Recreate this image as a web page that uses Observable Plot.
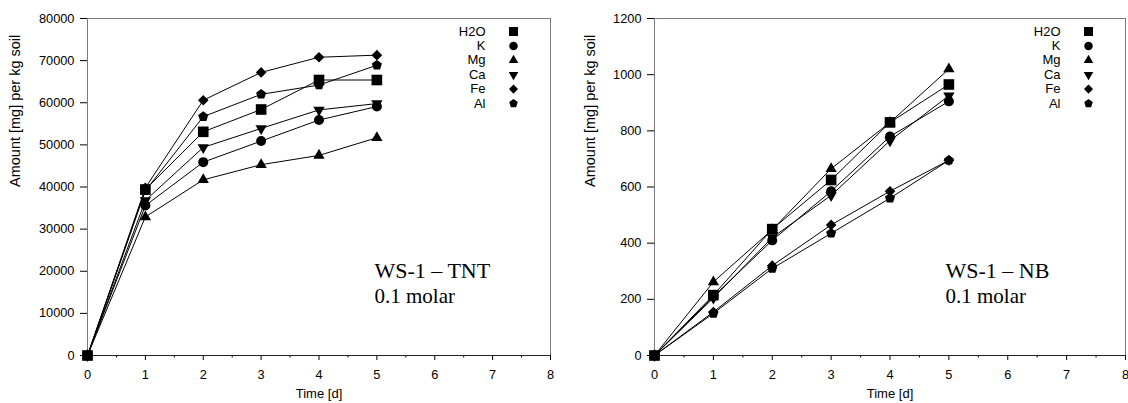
<!DOCTYPE html>
<html><head><meta charset="utf-8">
<script src="https://cdn.jsdelivr.net/npm/d3@7"></script>
<script src="https://cdn.jsdelivr.net/npm/@observablehq/plot@0.6"></script>
<style>
body{margin:0;background:#fff;}
#wrap{display:flex;width:1128px;height:403px;overflow:hidden;}
#wrap svg{overflow:visible;}
</style></head><body><div id="wrap"></div>
<script>
// ---- data ----
const days = [0, 1, 2, 3, 4, 5];
const seriesNames = ["H2O", "K", "Mg", "Ca", "Fe", "Al"];
const xTicks = [0, 1, 2, 3, 4, 5, 6, 7, 8];

// WS-1 – TNT
const tntH2O = [0, 39400, 53100, 58400, 65400, 65400];
const tntK   = [0, 35600, 45900, 50900, 55900, 59100];
const tntMg  = [0, 32900, 41700, 45300, 47500, 51700];
const tntCa  = [0, 36800, 49400, 53900, 58300, 59800];
const tntFe  = [0, 39800, 60600, 67200, 70800, 71300];
const tntAl  = [0, 39100, 56700, 62000, 64200, 68900];
const tntYTicks = [0, 10000, 20000, 30000, 40000, 50000, 60000, 70000, 80000];

// WS-1 – NB
const nbH2O = [0, 215, 450, 625, 830, 965];
const nbK   = [0, 210, 410, 585, 780, 905];
const nbMg  = [0, 262, 448, 665, 830, 1020];
const nbCa  = [0, 205, 420, 570, 765, 925];
const nbFe  = [0, 155, 320, 465, 585, 695];
const nbAl  = [0, 150, 310, 435, 560, 695];
const nbYTicks = [0, 200, 400, 600, 800, 1000, 1200];

const xLabel = "Time [d]";
const yLabel = "Amount [mg] per kg soil";
const subNote = "0.1 molar";

// ---- symbols ----
const downTriangle = {draw(ctx, size) {
  const h = Math.sqrt(size / (3 * Math.sqrt(3))), w = Math.sqrt(3) * h;
  ctx.moveTo(0, 2 * h); ctx.lineTo(-w, -h); ctx.lineTo(w, -h); ctx.closePath();
}};
const pentagon = {draw(ctx, size) {
  const R = Math.sqrt(size / 2.3776);
  for (let k = 0; k < 5; ++k) {
    const a = -Math.PI / 2 + k * 2 * Math.PI / 5;
    const x = R * Math.cos(a), y = R * Math.sin(a);
    k ? ctx.lineTo(x, y) : ctx.moveTo(x, y);
  }
  ctx.closePath();
}};
const symbolOf = {H2O: "square", K: "circle", Mg: "triangle", Ca: downTriangle, Fe: "diamond2", Al: pentagon};
const rOf = {H2O: 6, K: 5, Mg: 4.2, Ca: 4.2, Fe: 4.8, Al: 4.6};
const drawOrder = ["Al", "Fe", "Ca", "Mg", "K", "H2O"];
const serif = "'Liberation Serif', 'DejaVu Serif', serif";

function rows(vals) {
  const out = [];
  seriesNames.forEach((s, i) => days.forEach((d, j) => out.push({series: s, day: d, value: vals[i][j]})));
  return out;
}

function panel({vals, yTicks, title, ml, mr, yLabelDx, noteDx}) {
  const data = rows(vals);
  const marks = [
    Plot.frame({stroke: "#7a7a7a"}),
    Plot.axisX({ticks: xTicks, tickSize: 5, tickPadding: 9, label: null}),
    Plot.axisX({ticks: d3.range(0.5, 8, 1), tickSize: 2.5, tickFormat: () => "", label: null}),
    Plot.axisY({ticks: yTicks, tickSize: 7, tickPadding: 6, tickFormat: d3.format("d"), label: null}),
    Plot.ruleY([0], {stroke: "#222"}),
    Plot.text([xLabel], {text: d => d, frameAnchor: "bottom", dy: 38, lineAnchor: "middle", fontSize: 13}),
    Plot.text([yLabel], {text: d => d, frameAnchor: "left", dx: yLabelDx, rotate: -90, lineAnchor: "middle", fontSize: 14.5}),
    Plot.line(data, {x: "day", y: "value", z: "series", stroke: "black", strokeWidth: 1})
  ];
  for (const s of drawOrder) {
    marks.push(Plot.dot(data.filter(d => d.series === s), {x: "day", y: "value", symbol: () => symbolOf[s], r: rOf[s], fill: "black", stroke: "none"}));
  }
  seriesNames.forEach((s, i) => {
    marks.push(Plot.text([s], {text: d => d, frameAnchor: "top-right", dx: -65, dy: 13 + i * 14.4, textAnchor: "end", lineAnchor: "middle", fontSize: 13}));
    marks.push(Plot.dot([s], {frameAnchor: "top-right", dx: -37, dy: 13 + i * 14.4, symbol: () => symbolOf[s], r: rOf[s] * 0.85, fill: "black", stroke: "none"}));
  });
  marks.push(Plot.text([title], {text: d => d, frameAnchor: "top-left", dx: noteDx, dy: 252, textAnchor: "start", lineAnchor: "middle", fontFamily: serif, fontSize: 22}));
  marks.push(Plot.text([subNote], {text: d => d, frameAnchor: "top-left", dx: noteDx, dy: 278, textAnchor: "start", lineAnchor: "middle", fontFamily: serif, fontSize: 21}));
  return Plot.plot({
    width: 564, height: 403,
    marginLeft: ml, marginRight: mr, marginTop: 18, marginBottom: 48,
    style: {fontFamily: "'Liberation Sans', Arial, sans-serif", fontSize: "12.8px", color: "black", background: "white", overflow: "visible"},
    x: {domain: [0, 8]},
    y: {domain: [0, yTicks[yTicks.length - 1]]},
    symbol: {type: "identity"},
    marks
  });
}

const wrap = document.getElementById("wrap");
wrap.appendChild(panel({vals: [tntH2O, tntK, tntMg, tntCa, tntFe, tntAl], yTicks: tntYTicks, title: "WS-1 – TNT", ml: 87, mr: 14, yLabelDx: -72, noteDx: 287}));
wrap.appendChild(panel({vals: [nbH2O, nbK, nbMg, nbCa, nbFe, nbAl], yTicks: nbYTicks, title: "WS-1 – NB", ml: 90, mr: 3, yLabelDx: -64, noteDx: 291}));
</script></body></html>
